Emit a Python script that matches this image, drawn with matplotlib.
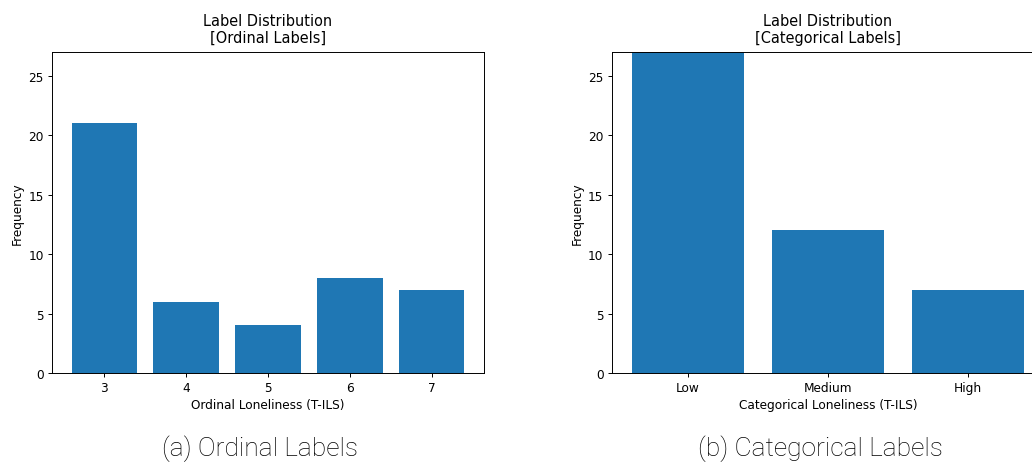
import matplotlib.pyplot as plt

# ordinal T-ILS scores and their counts
ordinal_scores = ["3", "4", "5", "6", "7"]
ordinal_counts = [21, 6, 4, 8, 7]

# same samples binned into three classes
categories = ["Low", "Medium", "High"]
category_counts = [27, 12, 7]

s = 0.87  # the original was rendered a bit smaller than default
plt.rcParams["axes.linewidth"] = 0.8 * s
plt.rcParams["xtick.major.width"] = 0.8 * s
plt.rcParams["ytick.major.width"] = 0.8 * s
plt.rcParams["xtick.major.size"] = 3.5 * s
plt.rcParams["ytick.major.size"] = 3.5 * s
plt.rcParams["xtick.major.pad"] = 3.5 * s
plt.rcParams["ytick.major.pad"] = 3.5 * s

fig = plt.figure(figsize=(10.32, 4.64), dpi=100)
ax1 = fig.add_axes([0.0504, 0.194, 0.4186, 0.6918])
ax2 = fig.add_axes([0.593, 0.194, 0.4186, 0.6918])

panels = [
    (ax1, ordinal_scores, ordinal_counts, "Ordinal"),
    (ax2, categories, category_counts, "Categorical"),
]

for ax, labels, counts, kind in panels:
    ax.bar(labels, counts, color="#1f77b4", width=0.8)
    ax.set_ylim(0, 27)
    ax.set_yticks([0, 5, 10, 15, 20, 25])
    ax.set_title("Label Distribution\n[%s Labels]" % kind, fontsize=12 * s,
                 pad=7)
    ax.set_xlabel("%s Loneliness (T-ILS)" % kind, fontsize=10 * s,
                  labelpad=3 * s)
    ax.set_ylabel("Frequency", fontsize=10 * s, labelpad=4 * s)
    ax.tick_params(labelsize=10 * s)

# podpisi ispod grafika
fig.text(260 / 1032, 1 - 449 / 464, "(a) Ordinal Labels", ha="center",
         va="center", fontsize=19, family=["Roboto", "DejaVu Sans"],
         weight="light", color="black")
fig.text(820 / 1032, 1 - 449 / 464, "(b) Categorical Labels", ha="center",
         va="center", fontsize=19, family=["Roboto", "DejaVu Sans"],
         weight="light", color="black")

fig.savefig("out.png", dpi=100)
